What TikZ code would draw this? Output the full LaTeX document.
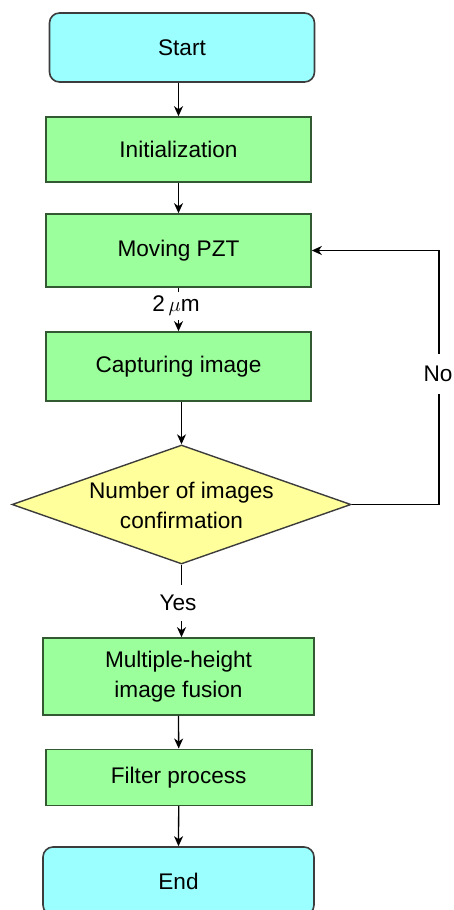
\documentclass[tikz,border=0pt]{standalone}
\usepackage{fontspec}
\setmainfont{Liberation Sans}
\usetikzlibrary{arrows.meta,shapes.geometric,calc}
\definecolor{cyanbox}{HTML}{9BFFFF}
\definecolor{greenbox}{HTML}{9BFF9B}
\definecolor{yellowbox}{HTML}{FFFF9B}
\definecolor{edge}{HTML}{3C3C3C}
\tikzset{
  txt/.style={font=\fontsize{22.6}{30}\selectfont, align=center},
  term/.style={txt, draw=edge, line width=1.6pt, fill=cyanbox, rounded corners=10pt, inner sep=0pt},
  proc/.style={txt, draw=edge!85!green, line width=1.6pt, fill=greenbox, inner sep=0pt},
  decision/.style={shape=diamond, draw=edge, line width=1.4pt, fill=yellowbox, inner sep=0pt},
  arr/.style={draw=black, line width=1.3pt, -{Stealth[length=10pt,width=9pt,inset=3pt]}},
  lbl/.style={txt, fill=white, inner xsep=3pt},
}
\begin{document}
\begin{tikzpicture}[x=1pt,y=-1pt]
\useasboundingbox (0,0) rectangle (453,910);
\node[term, minimum width=265pt, minimum height=69pt] (start) at (182,47.5) {Start};
\node[proc, minimum width=265pt, minimum height=65pt] (init) at (178.5,149.5) {Initialization};
\node[proc, minimum width=265pt, minimum height=73pt] (move) at (178.5,250.5) {Moving PZT};
\node[proc, minimum width=265pt, minimum height=69pt] (capt) at (178.5,366.5) {Capturing image};
\node[decision, minimum width=339pt, minimum height=119pt] (dia) at (181.5,504.5) {};
\node[txt] (diatext) at ([yshift=-1pt]dia.center) {Number of images\\confirmation};
\node[proc, minimum width=271pt, minimum height=77pt] (multi) at (178.5,676.5) {Multiple-height\\image fusion};
\node[proc, minimum width=266pt, minimum height=56pt] (filter) at (178.7,777.3) {Filter process};
\node[term, minimum width=271pt, minimum height=68pt] (end) at (178.5,881) {End};
\coordinate (corner1) at (439,504.5);
\coordinate (corner2) at (439,250.5);

\draw[arr] (start.south -| init.north) -- (init.north);
\draw[arr] (init.south) -- (move.north);
\draw[arr] (move.south) -- (capt.north);
\node[lbl, inner ysep=4pt] (mu) at (176,306) {2\,$\mu$m};
\draw[arr] (capt.south -| dia.north) -- (dia.north);
\draw[arr] (dia.south) -- (multi.north -| dia.south);
\node[lbl, inner ysep=10pt] (yes) at (178,603) {Yes};
\draw[arr] (dia.east) -- (corner1) -- (corner2) -- (move.east);
\node[lbl, inner ysep=12pt] (no) at (438,374) {No};
\draw[arr] (multi.south) -- (filter.north);
\draw[arr] (filter.south) -- (end.north);
\end{tikzpicture}
\end{document}
